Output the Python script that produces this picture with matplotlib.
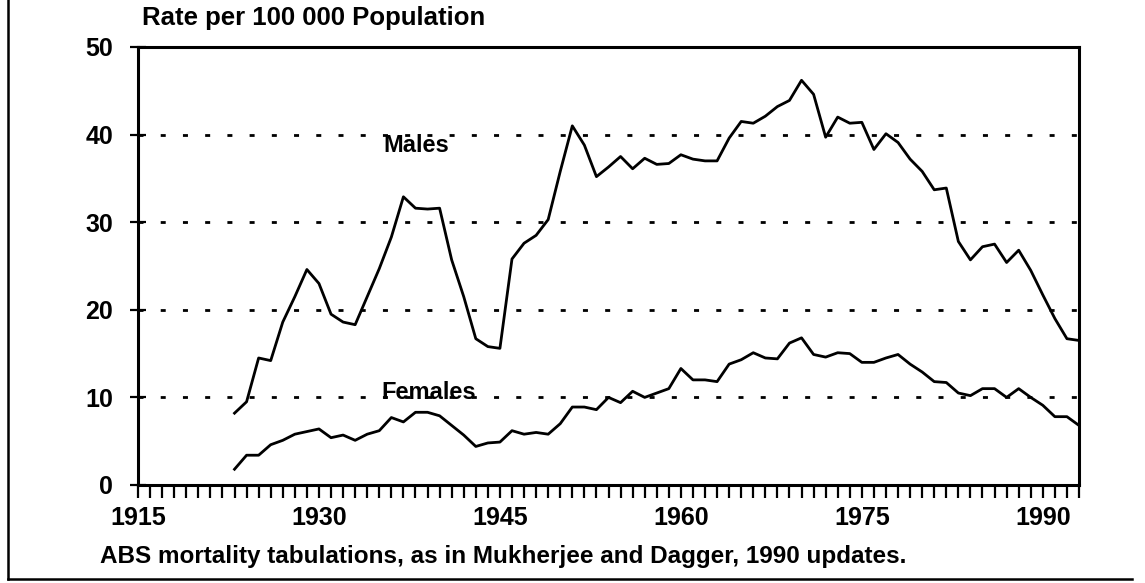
import numpy as np
import matplotlib
matplotlib.use("Agg")
import matplotlib.pyplot as plt
from matplotlib.lines import Line2D

plt.rcParams['font.family'] = ['Liberation Sans', 'DejaVu Sans']

years = np.arange(1923, 1994)

males = [8.2, 9.5, 14.5, 14.2, 18.6, 21.5, 24.6, 23.0, 19.5, 18.6,
         18.3, 21.5, 24.7, 28.3, 32.9, 31.6, 31.5, 31.6, 25.7, 21.5,
         16.7, 15.8, 15.6, 25.8, 27.6, 28.5, 30.3, 35.8, 41.0, 38.8,
         35.2, 36.3, 37.5, 36.1, 37.3, 36.6, 36.7, 37.7, 37.2, 37.0,
         37.0, 39.6, 41.5, 41.3, 42.1, 43.2, 43.9, 46.2, 44.6, 39.7,
         42.0, 41.3, 41.4, 38.3, 40.1, 39.1, 37.2, 35.8, 33.7, 33.9,
         27.8, 25.7, 27.2, 27.5, 25.4, 26.8, 24.5, 21.7, 19.0, 16.7,
         16.5]

females = [1.8, 3.4, 3.4, 4.6, 5.1, 5.8, 6.1, 6.4, 5.4, 5.7,
           5.1, 5.8, 6.2, 7.7, 7.2, 8.3, 8.3, 7.9, 6.8, 5.7,
           4.4, 4.8, 4.9, 6.2, 5.8, 6.0, 5.8, 7.0, 8.9, 8.9,
           8.6, 10.0, 9.4, 10.7, 10.0, 10.5, 11.0, 13.3, 12.0, 12.0,
           11.8, 13.8, 14.3, 15.1, 14.5, 14.4, 16.2, 16.8, 14.9, 14.6,
           15.1, 15.0, 14.0, 14.0, 14.5, 14.9, 13.8, 12.9, 11.8, 11.7,
           10.5, 10.2, 11.0, 11.0, 10.0, 11.0, 10.0, 9.1, 7.8, 7.8,
           6.8]

major_years = [1915, 1930, 1945, 1960, 1975, 1990]
y_ticks = [0, 10, 20, 30, 40, 50]
grid_levels = [10, 20, 30, 40]

W, H = 1145, 583
fig = plt.figure(figsize=(W / 100, H / 100), dpi=100)
ax = fig.add_axes([138 / W, 1 - 485 / H, (1079 - 138) / W, (485 - 47) / H])

for lvl in grid_levels:
    ax.axhline(lvl, color='black', lw=2.0, linestyle=(0, (1.8, 6.2)), zorder=1)

ax.plot(years, males, color='black', lw=2.0, zorder=3)
ax.plot(years, females, color='black', lw=2.0, zorder=3)

ax.text(1938.1, 38.8, "Males", ha='center', va='center', fontsize=17, fontweight='bold')
ax.text(1939.1, 10.6, "Females", ha='center', va='center', fontsize=17, fontweight='bold')

ax.set_xlim(1915, 1993)
ax.set_ylim(0, 50)
ax.set_xticks(major_years)
ax.set_xticks(np.arange(1915, 1994), minor=True)
ax.set_yticks(y_ticks)
ax.tick_params(axis='x', which='both', direction='out', length=9, width=1.6, pad=6,
               labelsize=18)
ax.tick_params(axis='y', direction='inout', length=12, width=1.6, pad=12, labelsize=18)
for lab in ax.get_xticklabels() + ax.get_yticklabels():
    lab.set_fontweight('bold')
for sp in ax.spines.values():
    sp.set_linewidth(2.2)

fig.text(142 / W, 1 - 18 / H, "Rate per 100 000 Population", ha='left', va='center',
         fontsize=18.5, fontweight='bold')
fig.text(100 / W, 1 - 556 / H,
         "ABS mortality tabulations, as in Mukherjee and Dagger, 1990 updates.",
         ha='left', va='center', fontsize=17.5, fontweight='bold')

# outer frame of the original figure
fig.add_artist(Line2D([8 / W, 8 / W], [1 - 579 / H, 1.0], transform=fig.transFigure,
                      color='black', lw=1.8))
fig.add_artist(Line2D([8 / W, 1132 / W], [1 - 579 / H, 1 - 579 / H], transform=fig.transFigure,
                      color='black', lw=1.8))

fig.savefig("out.png", dpi=100)
